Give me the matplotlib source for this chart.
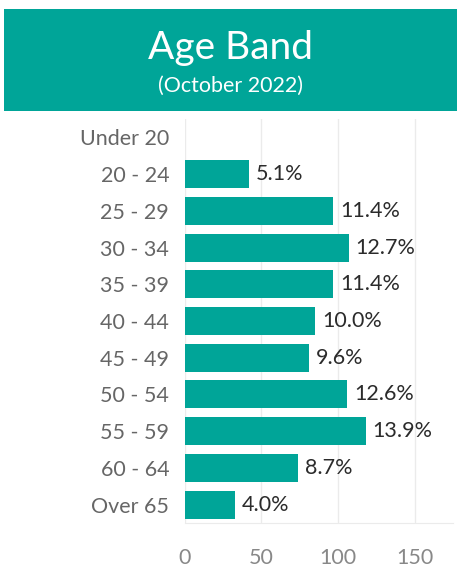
import matplotlib
matplotlib.use('Agg')
import matplotlib.pyplot as plt
from matplotlib.patches import Rectangle

# data
bands = ['Under 20', '20 - 24', '25 - 29', '30 - 34', '35 - 39', '40 - 44',
         '45 - 49', '50 - 54', '55 - 59', '60 - 64', 'Over 65']
counts = [0, 42, 97, 107, 97, 85, 81, 106, 118, 74, 33]
pct_labels = ['', '5.1%', '11.4%', '12.7%', '11.4%', '10.0%',
              '9.6%', '12.6%', '13.9%', '8.7%', '4.0%']
xticks = [0, 50, 100, 150]

teal = '#00A598'
plt.rcParams['font.family'] = ['Lato', 'DejaVu Sans']

fig = plt.figure(figsize=(4.61, 5.76), dpi=100)

# header box
fig.patches.append(Rectangle((4 / 461, 1 - 111 / 576), 453 / 461, 102 / 576,
                             transform=fig.transFigure, facecolor=teal,
                             edgecolor='none'))
fig.text(0.5, 1 - 48 / 576, 'Age Band', color='white', fontsize=28,
         ha='center', va='center')
fig.text(0.5, 1 - 86 / 576, '(October 2022)', color='white', fontsize=15.5,
         ha='center', va='center')

ax = fig.add_axes([184.5 / 461, 1 - 523 / 576, (453 - 184.5) / 461, (523 - 119) / 576])
y = list(range(len(bands)))
ax.barh(y, counts, height=0.76, color=teal, zorder=3)
for yi, c, lab in zip(y, counts, pct_labels):
    if lab:
        ax.text(c + 4.5, yi, lab, va='center', ha='left', fontsize=15.5,
                color='#2b2b2b', zorder=4)

ax.set_xlim(0, 175)
ax.set_ylim(len(bands) - 0.5, -0.5)
ax.set_yticks(y)
ax.set_yticklabels(bands, fontsize=15.5, color='#666666')
ax.set_xticks(xticks)
ax.set_xticklabels([str(t) for t in xticks], fontsize=15.5, color='#888888')
ax.tick_params(length=0)
ax.tick_params(axis='x', pad=18)
ax.tick_params(axis='y', pad=11)
ax.grid(axis='x', color='#ebebeb', linewidth=1, zorder=0)
for s in ['top', 'right', 'left']:
    ax.spines[s].set_visible(False)
ax.spines['bottom'].set_color('#ebebeb')

fig.savefig('out.png', dpi=100)
